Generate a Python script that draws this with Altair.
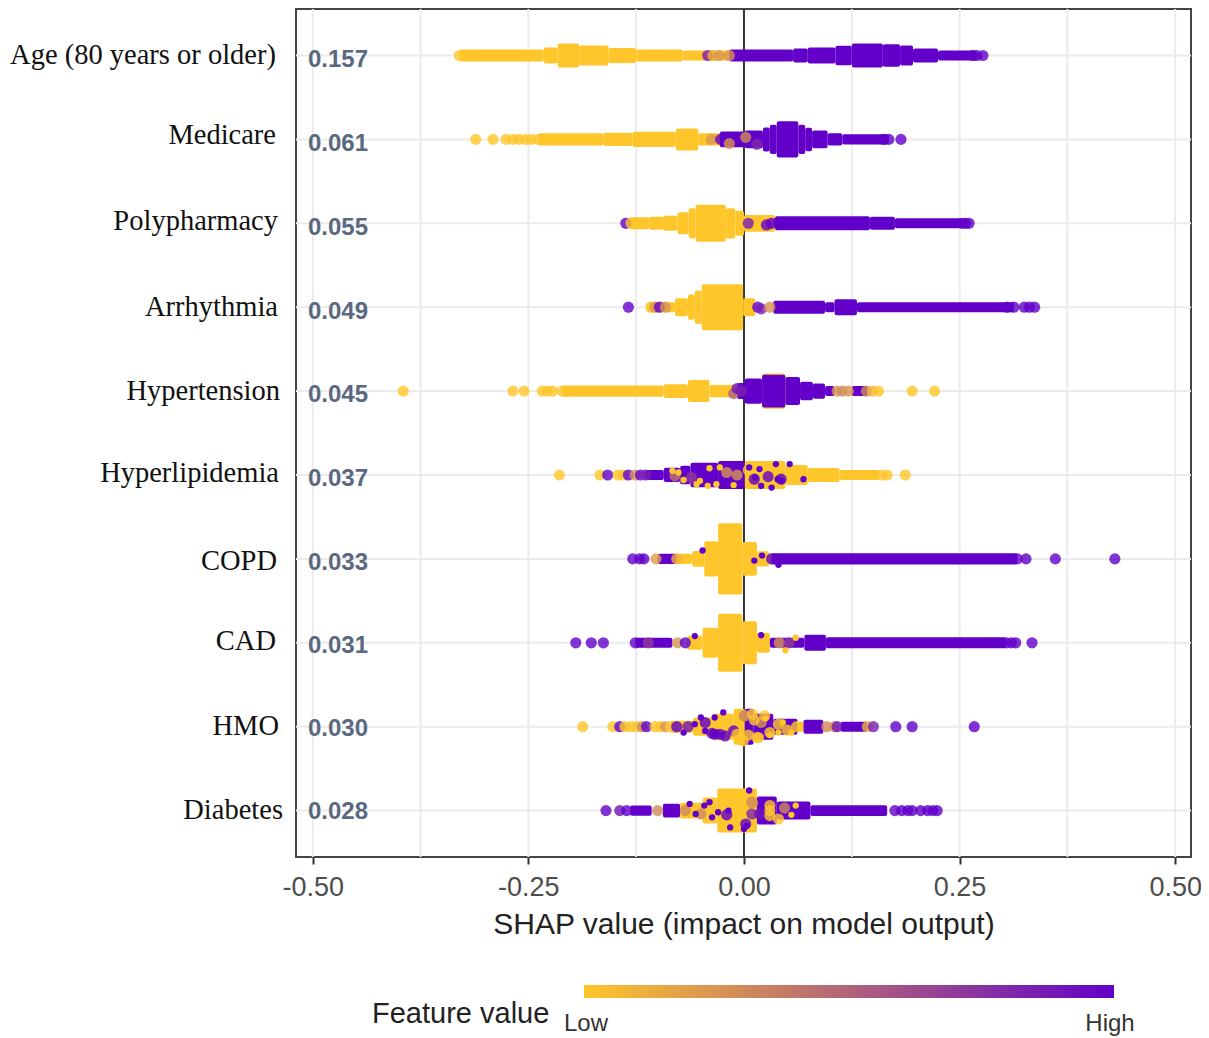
import altair as alt
import pandas as pd

FEATURES = ["Age (80 years or older)", "Medicare", "Polypharmacy", "Arrhythmia", "Hypertension",
            "Hyperlipidemia", "COPD", "CAD", "HMO", "Diabetes"]
MEAN_SHAP = ["0.157", "0.061", "0.055", "0.049", "0.045", "0.037", "0.033", "0.031", "0.030", "0.028"]
X_TICKS = [-0.50, -0.25, 0.0, 0.25, 0.50]
X_GRID = [-0.5, -0.375, -0.25, -0.125, 0.0, 0.125, 0.25, 0.375, 0.5]

# swarm bodies per feature: (shap from, shap to, half spread in rows, feature value)
AGE_BODY = [(-.330,-.232,.072,0),(-.232,-.216,.095,0),(-.216,-.191,.143,0),(-.191,-.157,.119,0),(-.157,-.125,.090,0),
            (-.125,-.071,.072,0),(-.071,-.017,.060,0),
            (-.017,.057,.072,1),(.057,.074,.083,1),(.074,.106,.095,1),(.106,.125,.115,1),(.125,.161,.143,1),
            (.161,.181,.135,1),(.181,.196,.119,1),(.196,.225,.083,1),(.225,.270,.060,1)]
MEDICARE_BODY = [(-.239,-.163,.072,0),(-.163,-.129,.078,0),(-.129,-.079,.090,0),(-.079,-.053,.131,0),(-.053,-.025,.072,0),
                 (-.028,.001,.095,1),(.001,.022,.107,1),(.022,.030,.143,1),(.030,.038,.175,1),(.038,.063,.215,1),
                 (.063,.071,.175,1),(.071,.079,.140,1),(.079,.097,.107,1),(.097,.114,.072,1),(.114,.168,.060,1)]
POLY_BODY = [(-.133,-.110,.072,0),(-.110,-.094,.078,0),(-.094,-.077,.090,0),(-.077,-.064,.131,0),(-.064,-.056,.180,0),
             (-.056,-.021,.220,0),(-.021,-.010,.180,0),(-.010,0,.150,0),(0,.036,.100,0),
             (.036,.146,.083,1),(.146,.175,.078,1),(.175,.253,.060,1)]
ARRHYTHMIA_BODY = [(-.112,-.080,.060,0),(-.080,-.065,.107,0),(-.065,-.057,.150,0),(-.057,-.049,.200,0),(-.049,-.001,.274,0),(-.001,.013,.107,0),
                   (.034,.094,.078,1),(.094,.105,.060,1),(.105,.131,.095,1),(.131,.313,.060,1)]
HYPERTENSION_BODY = [(.021,.048,.210,0),
                     (-.211,-.093,.066,0),(-.093,-.065,.083,0),(-.065,-.040,.131,0),(-.040,.000,.072,0),
                     (-.008,.001,.095,1),(.001,.021,.150,1),(.021,.048,.195,1),(.048,.065,.167,1),(.065,.080,.110,1),
                     (.080,.094,.090,1),(.094,.105,.060,1),(.125,.143,.060,1)]
HYPERLIPID_BODY = [(-.115,-.093,.060,1),(-.093,-.074,.085,1),(-.074,-.062,.110,1),(-.062,-.030,.145,1),(-.030,.001,.167,1),
                   (.001,.048,.167,0),(.048,.074,.119,0),(.074,.111,.083,0),(.111,.157,.060,0)]
COPD_BODY = [(-.100,-.078,.060,1),(-.078,-.060,.060,0),(-.060,-.046,.095,0),(-.046,-.030,.210,0),(-.030,-.002,.425,0),
             (-.002,.015,.200,0),(.015,.029,.090,0),(.029,.040,.070,0),(.032,.317,.066,1)]
CAD_BODY = [(-.126,-.083,.060,1),(-.066,-.048,.083,0),(-.048,-.030,.179,0),(-.030,-.002,.345,0),(-.002,.015,.256,0),
            (.015,.030,.119,0),(.030,.070,.060,1),(.070,.095,.095,1),(.095,.304,.066,1)]
HMO_BODY = [(-.085,-.059,.072,0),(-.059,-.036,.107,0),(-.036,-.012,.155,0),(-.012,.001,.215,0),
            (.001,.011,.215,1),(.011,.034,.155,1),(.034,.062,.095,1),(.062,.069,.060,0),(.069,.092,.083,1),
            (.112,.143,.060,1)]
DIABETES_BODY = [(-.132,-.107,.060,1),(-.094,-.074,.083,1),(-.074,-.048,.095,0),(-.048,-.031,.155,0),(-.031,.015,.262,0),
                 (.015,.038,.167,1),(.038,.077,.107,1),(.077,.166,.065,1)]

# single points per feature: (shap, offset in rows, feature value)
AGE_DOTS = [(-.330,0,0),(-.322,0,0),(-.042,0,.85),(-.036,0,.1),(-.029,0,.25),(-.017,0,.25),(.265,0,1),(.270,0,1),(.277,0,1)]
MEDICARE_DOTS = [(-.311,0,0),(-.291,0,0),(-.276,0,0),(-.268,0,0),(-.261,0,0),(-.253,0,0),(-.247,0,0),(-.239,0,0),
                 (-.038,0,.25),(-.027,0,1),(-.017,.05,.25),(.002,-.024,.3),(.015,.06,.8),(.162,0,1),(.168,0,1),(.182,0,1)]
POLY_DOTS = [(-.137,0,1),(-.131,0,0),(.005,0,.85),(.026,.02,1),(.032,0,1),(.040,-.01,1),(.253,0,1),(.257,0,1),(.261,0,1)]
ARRHYTHMIA_DOTS = [(-.134,0,1),(-.108,0,0),(-.103,0,.25),(-.098,0,1),(-.091,0,.25),(.016,0,1),(.020,.02,.85),(.030,0,.25),
                   (.305,0,1),(.313,0,1),(.325,0,1),(.331,0,1),(.337,0,1)]
HYPERTENSION_DOTS = [(-.395,0,0),(-.268,0,0),(-.255,0,0),(-.234,0,0),(-.228,0,0),(-.222,0,0),(-.211,0,0),
                     (-.012,.03,.5),(-.008,-.03,.9),(-.003,0,.85),(.108,0,.25),(.114,0,.3),(.121,0,.25),
                     (.142,0,.3),(.149,0,.1),(.156,0,0),(.195,0,0),(.221,0,0)]
HYPERLIPID_DOTS = [(-.214,0,0),(-.167,0,0),(-.158,0,1),(-.146,0,0),(-.140,0,0),(-.134,0,1),(-.126,0,.25),(-.120,0,1),(-.114,0,.85),
                   (-.080,.01,.4),(-.061,.03,.7),(-.020,-.03,.25),(-.008,0,.25),(.005,-.06,0),(.012,.05,1),(.028,.02,1),
                   (.043,.05,1),(.166,0,0),(.160,0,0),(.187,0,0)]
COPD_DOTS = [(-.129,0,1),(-.121,0,1),(-.116,0,1),(-.102,0,.2),(-.078,0,.1),(.032,0,1),(.317,0,1),(.327,0,1),(.361,0,1),(.430,0,1)]
CAD_DOTS = [(-.195,0,1),(-.177,0,1),(-.163,0,1),(-.126,0,1),(-.111,0,.7),(-.077,0,.25),(-.068,0,1),(.041,0,.25),(.052,0,.7),
            (.310,0,1),(.304,0,1),(.315,0,1),(.334,0,1)]
HMO_DOTS = [(-.187,0,0),(-.152,0,0),(-.144,0,1),(-.138,0,0),(-.131,0,0),(-.124,0,0),(-.118,0,.3),(-.113,0,1),(-.103,0,0),
            (-.097,0,0),(-.091,0,.25),(-.085,0,0),(-.078,0,1),(-.034,.09,1),(-.028,.09,1),(-.037,.08,1),(-.022,.11,1),
            (-.045,-.05,1),(-.012,.05,1),(-.065,0,.9),(.000,-.13,.25),(.020,-.05,.25),(-.008,.09,0),(.017,.13,0),(.024,-.13,0),
            (.001,-.13,.3),(-.001,.17,0),(.015,.13,0),(.010,-.15,0),(.005,.10,0),(.012,-.08,0),(.030,.07,0),(.040,-.03,0),(.050,.04,0),
            (.061,0,0),(.096,0,.3),(.105,0,.25),(.108,0,.9),(.143,0,.1),(.150,0,.85),(.176,0,1),(.195,0,1),(.267,0,1)]
DIABETES_DOTS = [(-.160,0,1),(-.144,0,.9),(-.136,0,1),(-.100,0,.3),(-.068,0,.3),(-.050,.04,.3),(.009,.04,.8),(.018,.04,.9),
                 (.009,-.10,.3),(-.003,-.16,0),(-.003,.08,0),(.030,0,0),(.030,.06,0),(.030,-.06,0),(.047,-.03,.3),(.040,.10,0),
                 (.010,-.09,.25),(.002,.16,1),(-.020,.05,1),(.175,0,1),(.183,0,1),(.190,0,1),(.195,0,1),(.205,0,1),(.213,0,1),(.219,0,1),(.224,0,1)]

# small flecks showing through the mixed parts of the swarms
HYPERLIPID_FLECKS = [(-.083,-.05,0),(-.076,-.03,0),(-.051,.07,0),(-.055,.11,0),(-.032,.11,0),(-.042,.13,0),(-.028,-.09,0),
                     (-.012,.12,0),(-.040,-.08,0),(-.070,.06,0),(.013,.03,1),(.018,-.07,1),(.006,-.09,1),(.039,.05,1),
                     (.044,.07,1),(.037,-.13,1),(.053,-.13,1),(.069,.05,1),(.020,.13,1),(.032,.15,1)]
HMO_FLECKS = [(-.034,-.11,1),(-.024,-.17,1),(-.050,-.11,1),(-.057,-.03,1),(-.070,.07,1),(-.045,.05,1),
              (.040,.07,0),(.030,.10,0),(.025,-.10,0),(.045,-.05,0),(.055,.07,0)]
DIABETES_FLECKS = [(-.040,-.10,1),(-.063,-.08,1),(-.030,.02,1),(-.018,0,1),(-.016,.20,1),(.003,.18,1),(.006,-.24,1),
                   (-.037,.08,1),(-.056,.04,1),(-.046,-.06,1),(.000,.22,1),(.055,.05,0),(.060,-.06,0)]
COPD_FLECKS = [(-.048,-.10,1),(.021,-.04,1),(.040,.07,1),(.012,.02,1)]
CAD_FLECKS = [(-.057,-.08,1),(.020,-.09,1),(.048,.09,0),(.060,-.06,0)]

ALL_BODIES = [AGE_BODY, MEDICARE_BODY, POLY_BODY, ARRHYTHMIA_BODY, HYPERTENSION_BODY,
              HYPERLIPID_BODY, COPD_BODY, CAD_BODY, HMO_BODY, DIABETES_BODY]
ALL_DOTS = [AGE_DOTS, MEDICARE_DOTS, POLY_DOTS, ARRHYTHMIA_DOTS, HYPERTENSION_DOTS,
            HYPERLIPID_DOTS, COPD_DOTS, CAD_DOTS, HMO_DOTS, DIABETES_DOTS]
ALL_FLECKS = {5: HYPERLIPID_FLECKS, 6: COPD_FLECKS, 7: CAD_FLECKS, 8: HMO_FLECKS, 9: DIABETES_FLECKS}

bodies = pd.DataFrame([{"x": a, "x2": b, "y": r - h, "y2": r + h, "v": v}
                       for r, rows in enumerate(ALL_BODIES) for a, b, h, v in rows])
dots = pd.DataFrame([{"x": a, "y": r + o, "v": v} for r, rows in enumerate(ALL_DOTS) for a, o, v in rows])
flecks = pd.DataFrame([{"x": a, "y": r + o, "v": v} for r, rows in ALL_FLECKS.items() for a, o, v in rows])
rows_df = pd.DataFrame({"row": list(range(10)), "shap": MEAN_SHAP, "feature": FEATURES})

YELLOW, PURPLE = "#FFC62B", "#6200C9"
SANS, SERIF = "Liberation Sans", "Liberation Serif"
xs = alt.Scale(domain=[-0.5194, 0.5183], nice=False, zero=False)
ys = alt.Scale(domain=[-0.554, 9.553], reverse=True, nice=False, zero=False)
color = alt.Color("v:Q", scale=alt.Scale(domain=[0, 1], range=[YELLOW, PURPLE], interpolate="rgb"),
                  legend=alt.Legend(orient="none", legendX=288, legendY=976, direction="horizontal", title=None,
                                    gradientLength=530, gradientThickness=13, gradientStrokeWidth=0,
                                    values=[0, 1], labelExpr="''", labelFontSize=1))

x_axis = alt.Axis(values=X_TICKS, labelExpr="replace(format(datum.value, '.2f'), '−', '-')",
                  grid=False, domain=False, tickColor="#333333", tickWidth=2, tickSize=7,
                  labelFont=SANS, labelFontSize=27, labelColor="#4D4D4D", labelPadding=10, labelOverlap=False,
                  labelFlush=False, title="SHAP value (impact on model output)", titleFont=SANS, titleFontSize=30,
                  titleFontWeight="normal", titleColor="#222222", titlePadding=9)
x_enc = alt.X("x:Q", scale=xs, axis=x_axis)

x_grid = alt.Chart(pd.DataFrame({"x": X_GRID})).mark_rule(color="#EBEBEB", strokeWidth=2).encode(x=x_enc)
y_grid = alt.Chart(rows_df).mark_rule(color="#EBEBEB", strokeWidth=2).encode(
    y=alt.Y("row:Q", scale=ys, axis=None))
zero = alt.Chart(pd.DataFrame({"x": [0.0]})).mark_rule(color="#333333", strokeWidth=2).encode(x=x_enc)
body = alt.Chart(bodies).mark_rect(opacity=1, cornerRadius=2).encode(
    x=x_enc, x2="x2:Q", y=alt.Y("y:Q", scale=ys, axis=None), y2="y2:Q", color=color)
dot = alt.Chart(dots).mark_circle(size=125, opacity=0.8).encode(
    x=x_enc, y=alt.Y("y:Q", scale=ys, axis=None), color=color)
fleck = alt.Chart(flecks).mark_circle(size=40, opacity=1).encode(
    x=x_enc, y=alt.Y("y:Q", scale=ys, axis=None), color=color)

VALUE_DY = [5, 5, 5, 5, 4, 4, 4, 3, 2, 1]
values = [alt.Chart(pd.DataFrame({"row": [i], "shap": [s]})).mark_text(
              align="left", baseline="middle", dx=12, dy=VALUE_DY[i], font=SANS, fontSize=24,
              fontWeight="bold", color="#5A6880").encode(
              x=alt.value(0), y=alt.Y("row:Q", scale=ys, axis=None), text="shap:N")
          for i, s in enumerate(MEAN_SHAP)]

LABEL_DX = [-20, -20, -18, -18, -16, -17, -19, -20, -17, -13]
LABEL_DY = [0, -4, -2, 0, 0, -2, 2, -2, -1, -1]
labels = [alt.Chart(pd.DataFrame({"row": [i], "feature": [name]})).mark_text(
              align="right", baseline="middle", dx=LABEL_DX[i], dy=LABEL_DY[i], font=SERIF, fontSize=28.5,
              color="#111111").encode(
              x=alt.value(0), y=alt.Y("row:Q", scale=ys, axis=None), text="feature:N")
          for i, name in enumerate(FEATURES)]
legend_title = alt.Chart(pd.DataFrame({"t": ["Feature value"]})).mark_text(
    align="left", baseline="middle", font=SANS, fontSize=29, color="#222222").encode(
    x=alt.value(76), y=alt.value(1005), text="t:N")
legend_low = alt.Chart(pd.DataFrame({"t": ["Low"]})).mark_text(
    align="center", baseline="middle", font=SANS, fontSize=24, color="#333333").encode(
    x=alt.value(290), y=alt.value(1015), text="t:N")
legend_high = alt.Chart(pd.DataFrame({"t": ["High"]})).mark_text(
    align="center", baseline="middle", font=SANS, fontSize=24, color="#333333").encode(
    x=alt.value(814), y=alt.value(1015), text="t:N")

chart = alt.layer(x_grid, y_grid, zero, body, dot, fleck, *values, *labels, legend_title, legend_low, legend_high).properties(
    width=895, height=848, autosize=alt.AutoSizeParams(type="none"),
    padding={"left": 288, "top": 1, "right": 10, "bottom": 180}, background="white"
).configure_view(stroke="#444444", strokeWidth=2)

chart.save("out.html", embed_options={"renderer": "svg", "actions": False})
